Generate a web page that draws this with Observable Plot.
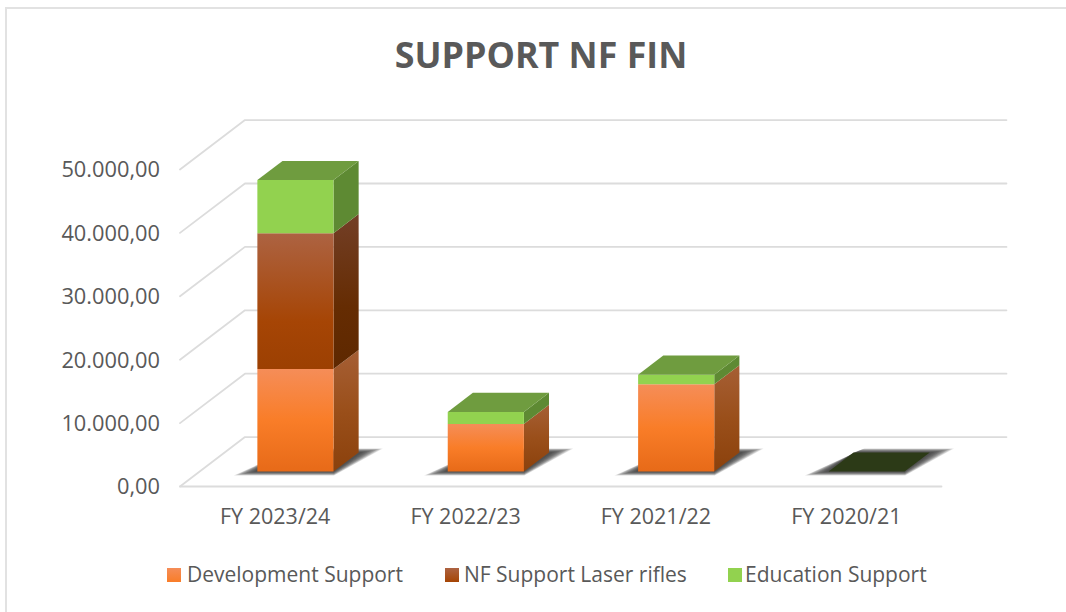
<!DOCTYPE html>
<html>
<head>
<meta charset="utf-8">
<script src="https://cdn.jsdelivr.net/npm/d3@7"></script>
<script src="https://cdn.jsdelivr.net/npm/@observablehq/plot@0.6"></script>
<style>
html,body{margin:0;padding:0;background:#fff;overflow:hidden}
#page{position:relative;width:1066px;height:612px;font-family:"Open Sans",sans-serif;color:#595959}
#frame{position:absolute;left:5px;top:7px;right:-4px;bottom:-4px;border:2px solid #e2e2e2}
#title{position:absolute;left:0;width:1082px;top:30px;text-align:center;font-size:35.8px;font-weight:700;line-height:48px}
#chart{position:absolute;left:0;top:90px}
.item{position:absolute;top:560px;font-size:21px;line-height:28px;white-space:nowrap}
.sw{position:absolute;top:568px;width:14px;height:14px}
</style>
</head>
<body>
<div id="page">
<div id="frame"></div>
<div id="title">SUPPORT NF FIN</div>
<div id="chart"></div>
</div>
<script>
const chartTitle = "SUPPORT NF FIN";
const categories = ["FY 2023/24", "FY 2022/23", "FY 2021/22", "FY 2020/21"];
const seriesNames = ["Development Support", "NF Support Laser rifles", "Education Support"];
const development = [16170, 7510, 13750, 0];
const nfSupport = [21420, 0, 0, 0];
const education = [8390, 1890, 1530, 0];
const yTicks = [0, 10000, 20000, 30000, 40000, 50000];

// Oblique depth of the 3D floor, in data units
const depthX = 0.3412, depthY = 7795;
const barX0 = 0.303, barX1 = 0.703, barD0 = 0.303, barD1 = 0.69;
const shadowLayers = 14;

const seriesValues = [development, nfSupport, education];
const P = (c, v, d) => ({x: c + d * depthX, y: v + d * depthY});

const fmt = d3.formatLocale({decimal: ",", thousands: ".", grouping: [3]}).format(",.2f");

const gridPts = [];
yTicks.forEach(v => {
  [[0, 0], [0, 1], [categories.length, 1]].forEach(([c, d]) => gridPts.push({id: v, ...P(c, v, d)}));
});
const floorLine = [P(0, 0, 0), P(categories.length, 0, 0)];

const front = [[], [], []], side = [[], [], []];
const tops = [], topsEmpty = [], shadows = [];
categories.forEach((cat, i) => {
  let base = 0;
  const a = i + barX0, b = i + barX1;
  seriesValues.forEach((vals, s) => {
    const t = base + vals[i];
    if (vals[i] > 0) {
      [P(a, base, barD0), P(b, base, barD0), P(b, t, barD0), P(a, t, barD0)]
        .forEach(p => front[s].push({id: i, ...p}));
      [P(b, base, barD0), P(b, base, barD1), P(b, t, barD1), P(b, t, barD0)]
        .forEach(p => side[s].push({id: i, ...p}));
    }
    base = t;
  });
  const target = base > 0 ? tops : topsEmpty;
  [P(a, base, barD0), P(b, base, barD0), P(b, base, barD1), P(a, base, barD1)]
    .forEach(p => target.push({id: i, ...p}));
  // soft shadow on the floor: stacked translucent outlines, widest first
  for (let k = 0; k < shadowLayers; k++) {
    const e = 1 - k / (shadowLayers - 1);
    [P(a - 0.012 - 0.085 * e, 0, barD0 - 0.08 * e),
     P(b + 0.03 * e, 0, barD0 - 0.08 * e),
     P(b + 0.015 + 0.085 * e, 0, barD1 + 0.08 * e),
     P(a + 0.03 * e, 0, barD1 + 0.08 * e)]
      .forEach(p => shadows.push({id: i + "-" + k, ...p}));
  }
});

function grad(id, stops) {
  return `<linearGradient id="${id}" x1="0" y1="0" x2="0" y2="1">` +
    stops.map(([o, c]) => `<stop offset="${o}" stop-color="${c}"/>`).join("") + `</linearGradient>`;
}
const defsMark = () => {
  const g = document.createElementNS("http://www.w3.org/2000/svg", "defs");
  g.innerHTML =
    grad("fOrange", [[0, "#f58d58"], [0.5, "#f97d28"], [1, "#e76a18"]]) +
    grad("fBrown", [[0, "#ad6342"], [0.65, "#a64505"], [1, "#9c4002"]]) +
    grad("sOrange", [[0, "#a65f35"], [0.5, "#9a4f1a"], [1, "#8b410c"]]) +
    grad("sBrown", [[0, "#733f27"], [0.6, "#652c02"], [1, "#5e2800"]]);
  return g;
};
const face = (data, fill) => Plot.line(data, {x: "x", y: "y", z: "id", fill, stroke: "none", curve: "linear"});

const plot = Plot.plot({
  width: 1066, height: 460,
  marginLeft: 179.5, marginRight: 125, marginTop: 79, marginBottom: 64,
  x: {domain: [0, categories.length]},
  y: {domain: [0, 50000]},
  style: {fontFamily: '"Open Sans",sans-serif', color: "#595959", background: "transparent", overflow: "visible"},
  marks: [
    defsMark,
    Plot.line(gridPts, {x: "x", y: "y", z: "id", stroke: "#dcdcdc", strokeWidth: 1.8, curve: "linear"}),
    Plot.line(floorLine, {x: "x", y: "y", stroke: "#dcdcdc", strokeWidth: 1.8}),
    Plot.line(shadows, {x: "x", y: "y", z: "id", fill: "#333", fillOpacity: 0.12, stroke: "none", curve: "linear"}),
    face(side[0], "url(#sOrange)"),
    face(side[1], "url(#sBrown)"),
    face(side[2], "#5e8a33"),
    face(front[0], "url(#fOrange)"),
    face(front[1], "url(#fBrown)"),
    face(front[2], "#92d24f"),
    face(tops, "#6f9c3f"),
    face(topsEmpty, "#2c3a17"),
    Plot.axisY({ticks: yTicks, tickSize: 0, tickPadding: 20, dy: 1, tickFormat: fmt, fontSize: 21.8, label: null}),
    Plot.axisX({ticks: categories.map((_, i) => i + 0.5), tickFormat: v => categories[v - 0.5], tickSize: 0, tickPadding: 22, fontSize: 21.5, label: null})
  ]
});
document.getElementById("chart").append(plot);

const colors = ["linear-gradient(#f58d58,#f97d28)", "linear-gradient(#ad6342,#a64505)", "#92d24f"];
const swLeft = [167, 445, 728], txtLeft = [187, 464, 745];
const page = document.getElementById("page");
seriesNames.forEach((n, i) => {
  const sw = document.createElement("div");
  sw.className = "sw"; sw.style.left = swLeft[i] + "px"; sw.style.background = colors[i];
  const t = document.createElement("div");
  t.className = "item"; t.style.left = txtLeft[i] + "px"; t.textContent = n;
  page.append(sw, t);
});
</script>
</body>
</html>
